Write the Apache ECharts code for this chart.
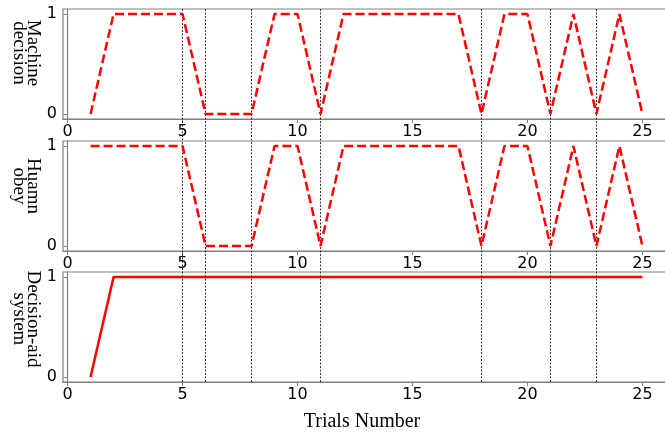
<!DOCTYPE html>
<html><head><meta charset="utf-8">
<script src="https://cdn.jsdelivr.net/npm/echarts@6/dist/echarts.min.js"></script>
<style>html,body{margin:0;padding:0;background:#fff}#c{width:665px;height:433px}</style>
</head><body><div id="c"></div>
<script>
const trials = [1,2,3,4,5,6,7,8,9,10,11,12,13,14,15,16,17,18,19,20,21,22,23,24,25];
const machineDecision = [0,1,1,1,1,0,0,0,1,1,0,1,1,1,1,1,1,0,1,1,0,1,0,1,0];
const humanObey       = [1,1,1,1,1,0,0,0,1,1,0,1,1,1,1,1,1,0,1,1,0,1,0,1,0];
const decisionAid     = [0,1,1,1,1,1,1,1,1,1,1,1,1,1,1,1,1,1,1,1,1,1,1,1,1];
const switchTrials = [5,6,8,11,18,21,23];
const xTicks = [0,5,10,15,20,25];
const yTicks = [0,1];
const panelNames = ['Machine\ndecision','Huamn\nobey','Decision-aid\nsystem'];
const panelData = [machineDecision, humanObey, decisionAid];
const panelDashed = [true, true, false];

const chart = echarts.init(document.getElementById('c'), null, {renderer:'canvas'});
const tops = [9, 141, 272];
const H = 110;
const LEFT = 63, RIGHT = -5;
const grids = tops.map(t => ({left: LEFT, right: RIGHT, top: t, height: H, show: true, borderColor: '#808080', borderWidth: 1.2, backgroundColor: 'transparent', outerBoundsMode: 'none', containLabel: false}));
grids.push({left: LEFT, right: RIGHT, top: tops[0], height: tops[2] + H - tops[0], show: false, outerBoundsMode: 'none', containLabel: false});

const xAxes = [], yAxes = [], series = [];
for (let i = 0; i < 3; i++) {
  xAxes.push({
    type: 'value', gridIndex: i, min: -0.2, max: 26.2,
    splitLine: {show: false},
    axisLine: {show: true, onZero: false, lineStyle: {color: '#808080', width: 1.2}},
    axisTick: {show: true, customValues: xTicks, length: 4, lineStyle: {color: '#808080'}},
    axisLabel: {customValues: xTicks, color: '#000', fontFamily: 'DejaVu Sans', fontSize: 16, margin: 5},
    name: i === 2 ? 'Trials Number' : '',
    nameLocation: 'middle', nameGap: 30,
    nameTextStyle: {fontFamily: 'Liberation Serif', fontSize: 20, color: '#000', padding: [0, 9, 0, 0]}
  });
  yAxes.push({
    type: 'value', gridIndex: i, min: -0.05, max: 1.05,
    splitLine: {show: false},
    axisLine: {show: true, lineStyle: {color: '#808080', width: 1.2}},
    axisTick: {show: true, customValues: yTicks, length: 4, lineStyle: {color: '#808080'}},
    axisLabel: {customValues: yTicks, color: '#000', fontFamily: 'DejaVu Sans', fontSize: 16, margin: 6}
  });
  series.push({
    type: 'line', xAxisIndex: i, yAxisIndex: i,
    data: trials.map((t, k) => [t, panelData[i][k]]),
    symbol: 'none', z: 5,
    lineStyle: {color: '#ff0000', width: 2.5, type: panelDashed[i] ? [9, 4] : 'solid'}
  });
}
xAxes.push({type: 'value', gridIndex: 3, min: -0.2, max: 26.2, show: false});
yAxes.push({type: 'value', gridIndex: 3, min: 0, max: 1, show: false});
series.push({
  type: 'line', xAxisIndex: 3, yAxisIndex: 3, data: [], symbol: 'none', z: 3,
  markLine: {
    silent: true, symbol: ['none', 'none'], label: {show: false},
    lineStyle: {color: '#000', width: 0.8, type: [2, 1.5]},
    data: switchTrials.map(v => ({xAxis: v}))
  }
});

const nameCenters = [53, 186, 319];
const graphic = panelNames.map((n, i) => ({
  type: 'text', x: 26, y: nameCenters[i], rotation: -Math.PI / 2,
  style: {text: n, fontFamily: 'Liberation Serif', fontSize: 19, lineHeight: 14, fill: '#000', align: 'center', verticalAlign: 'middle'}
}));

chart.setOption({animation: false, grid: grids, xAxis: xAxes, yAxis: yAxes, series: series, graphic: graphic});
</script></body></html>
